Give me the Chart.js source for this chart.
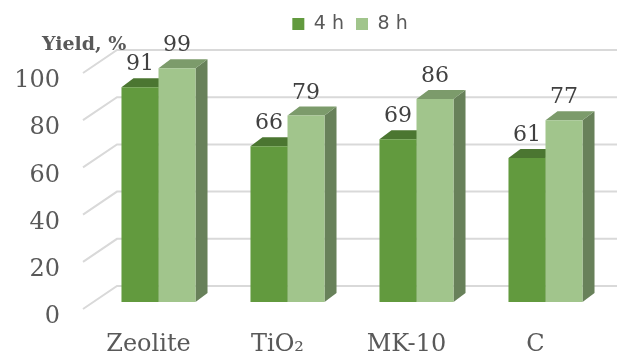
<!DOCTYPE html>
<html>
<head>
<meta charset="utf-8">
<script src="https://cdn.jsdelivr.net/npm/chart.js@4.4.1/dist/chart.umd.min.js"></script>
<style>
  html, body { margin: 0; padding: 0; background: #ffffff; }
  #wrap { width: 617px; height: 357px; }
</style>
</head>
<body>
<div id="wrap"><canvas id="c" width="617" height="357"></canvas></div>
<script>
// Catalyst yields after 4 h and 8 h
const categories = ['Zeolite', 'TiO₂', 'MK-10', 'C'];
const seriesNames = ['4 h', '8 h'];
const yield4h = [91, 66, 69, 61];
const yield8h = [99, 79, 86, 77];
const yTicks = [0, 20, 40, 60, 80, 100];
const yTitle = 'Yield, %';

const GRAY = '#595959';
const LABEL_GRAY = '#404040';
const PLOT_TOP = 81;                  // pixel row of the 100 tick
const PLOT_BOTTOM = 317;              // pixel row of the 0 tick
const DEPTH = { x: 12, y: 9 };        // depth of each box
const SHIFT = { x: 10, y: -15 };      // bar plane relative to the axis plane
const WALL = { x: 33, y: -31 };       // back wall relative to the axis plane
const FLOOR_FRONT = { x: -1, y: -8 }; // front end of the wall lines
const faces = [
  { front: '#629A3E', top: '#4B7631', side: '#4F7D34' },
  { front: '#A1C58C', top: '#7C9B6B', side: '#68815A' }
];

function fillPoly(ctx, pts) {
  ctx.beginPath();
  ctx.moveTo(pts[0][0], pts[0][1]);
  for (let i = 1; i < pts.length; i++) ctx.lineTo(pts[i][0], pts[i][1]);
  ctx.closePath();
  ctx.fill();
}

const depthPlugin = {
  id: 'depth',
  afterLayout(chart) {
    // place the legend row above the plot
    const lg = chart.legend;
    if (!lg) return;
    const pad = lg.options.labels.padding;
    const itemH = Math.max(lg.options.labels.font.size, lg.options.labels.boxHeight);
    const dy = 24 - (lg.top + pad + itemH / 2);
    const dx = 350 - (lg.left + lg.right) / 2;
    lg.left += dx; lg.right += dx; lg.top += dy; lg.bottom += dy;
  },
  beforeDatasetsDraw(chart) {
    const { ctx, chartArea, scales: { y } } = chart;
    // back wall and side wall grid lines
    ctx.save();
    ctx.strokeStyle = '#D9D9D9';
    ctx.lineWidth = 2;
    yTicks.forEach(v => {
      const py = y.getPixelForValue(v);
      ctx.beginPath();
      ctx.moveTo(chartArea.left + FLOOR_FRONT.x, py + FLOOR_FRONT.y);
      ctx.lineTo(chartArea.left + WALL.x, py + WALL.y);
      ctx.lineTo(chart.width, py + WALL.y);
      ctx.stroke();
    });
    ctx.restore();

    // bars sit in their own plane; top and side faces go behind the fronts
    ctx.save();
    ctx.translate(SHIFT.x, SHIFT.y);
    chart.data.datasets.forEach((ds, di) => {
      const meta = chart.getDatasetMeta(di);
      meta.data.forEach(bar => {
        const { x, y: top, base, width } = bar.getProps(['x', 'y', 'base', 'width'], true);
        const l = x - width / 2, r = x + width / 2;
        ctx.fillStyle = faces[di].side;
        fillPoly(ctx, [[r, top], [r + DEPTH.x, top - DEPTH.y], [r + DEPTH.x, base - DEPTH.y], [r, base]]);
        ctx.fillStyle = faces[di].top;
        fillPoly(ctx, [[l, top], [l + DEPTH.x, top - DEPTH.y], [r + DEPTH.x, top - DEPTH.y], [r, top]]);
      });
    });
  },
  afterDatasetsDraw(chart) {
    const { ctx } = chart;
    // value labels above each box
    ctx.fillStyle = LABEL_GRAY;
    ctx.font = '22px "DejaVu Serif"';
    ctx.textAlign = 'center';
    ctx.textBaseline = 'alphabetic';
    chart.data.datasets.forEach((ds, di) => {
      const meta = chart.getDatasetMeta(di);
      meta.data.forEach((bar, i) => {
        const { x, y: top } = bar.getProps(['x', 'y'], true);
        ctx.fillText(String(ds.data[i]), x, top - 17);
      });
    });
    ctx.restore();

    // axis title
    ctx.save();
    ctx.fillStyle = GRAY;
    ctx.font = 'bold 19px "DejaVu Serif"';
    ctx.textAlign = 'left';
    ctx.textBaseline = 'alphabetic';
    ctx.fillText(yTitle, 42, 50);
    ctx.restore();
  }
};

const chart = new Chart(document.getElementById('c'), {
  type: 'bar',
  data: {
    labels: categories,
    datasets: [
      { label: seriesNames[0], data: yield4h, backgroundColor: faces[0].front, borderWidth: 0,
        categoryPercentage: 0.574, barPercentage: 1, clip: false },
      { label: seriesNames[1], data: yield8h, backgroundColor: faces[1].front, borderWidth: 0,
        categoryPercentage: 0.574, barPercentage: 1, clip: false }
    ]
  },
  options: {
    responsive: false,
    animation: false,
    layout: { padding: { left: 0, right: 17, top: 22, bottom: 0 } },
    plugins: {
      legend: {
        position: 'top',
        labels: {
          boxWidth: 12, boxHeight: 12, padding: 12, color: GRAY,
          font: { family: 'DejaVu Sans', size: 19 }
        }
      },
      tooltip: { enabled: false }
    },
    scales: {
      x: {
        grid: { display: false, drawTicks: false },
        border: { display: false },
        ticks: { color: GRAY, font: { family: 'DejaVu Serif', size: 24 }, padding: 13, maxRotation: 0 },
        afterFit(s) { s.height = 357 - PLOT_BOTTOM; }
      },
      y: {
        min: 0, max: 100,
        afterBuildTicks(s) { s.ticks = yTicks.map(v => ({ value: v })); },
        grid: { display: false, drawTicks: false },
        border: { display: false },
        ticks: { color: GRAY, font: { family: 'DejaVu Serif', size: 24 }, padding: 24 },
        afterFit(s) { s.width = 84; }
      }
    }
  },
  plugins: [depthPlugin]
});

// pin the top of the plot area to its row
chart.options.layout.padding.top += PLOT_TOP - chart.chartArea.top;
chart.update();
</script>
</body>
</html>
